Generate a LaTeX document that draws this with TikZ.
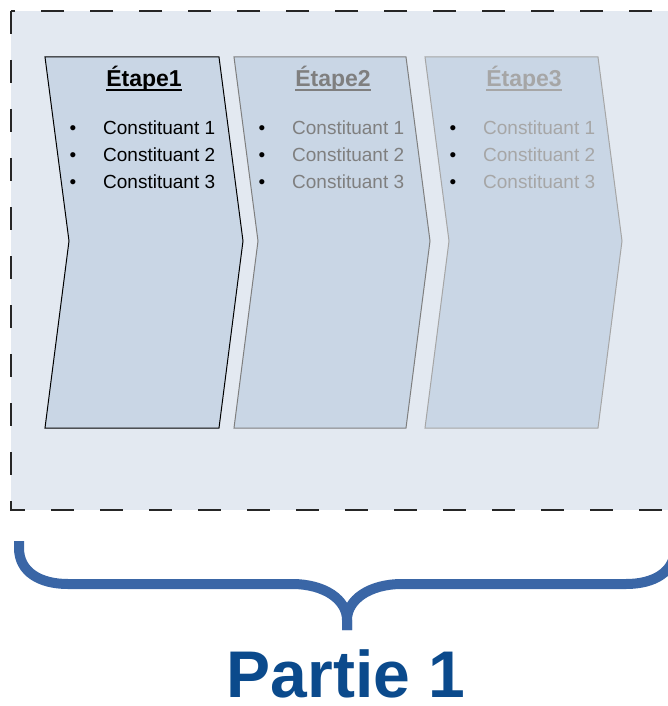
\documentclass[tikz,border=0pt]{standalone}
\usepackage{fontspec}
\setmainfont{Liberation Sans}
\definecolor{bgfill}{HTML}{E3E9F1}
\definecolor{chevfill}{HTML}{C9D6E5}
\definecolor{grayA}{HTML}{7F7F7F}
\definecolor{grayB}{HTML}{A6A6A6}
\definecolor{bracecol}{HTML}{3A66A6}
\definecolor{partcol}{HTML}{0B4A8C}
\begin{document}
\begin{tikzpicture}[x=1pt,y=-1pt,
  chev/.style={fill=chevfill, line width=1pt, line join=miter},
  titletext/.style={inner sep=0pt, anchor=base, font=\fontsize{23}{27}\selectfont\bfseries},
  itemtext/.style={inner sep=0pt, anchor=base west, font=\fontsize{19}{23}\selectfont},
  bullettext/.style={inner sep=0pt, anchor=base, font=\fontsize{19}{23}\selectfont},
  framebox/.style={fill=bgfill, draw=black!85, line width=1.4pt, dash pattern=on 23pt off 26pt},
  bracestyle/.style={draw=bracecol, line width=10pt, line cap=butt, line join=round}]
\useasboundingbox (0,0) rectangle (668,706);
\begin{scope}
\clip (0,0) rectangle (668,706);
\draw[framebox] (11,11) rectangle (690,510);
\foreach \i/\xo/\w/\bc/\tc in {1/45/174/black/black, 2/234/172/grayA/grayA, 3/425/173/grayB/grayB} {
  \draw[chev, draw=\bc] (\xo,57) -- ++(\w,0) -- ++(24,184) -- ++(-24,187) -- ++(-\w,0) -- ++(24,-187) -- cycle;
  \node[titletext, text=\tc] (t\i) at (\xo+99,87) {Étape\i};
  \draw[\tc, line width=1.7pt] ([yshift=-2.8pt]t\i.base west) -- ([yshift=-2.8pt]t\i.base east);
  \foreach \k/\yy in {1/135, 2/161.5, 3/188} {
    \node[bullettext] (b\i\k) at (\xo+28,\yy) {•};
    \node[itemtext, text=\tc] (c\i\k) at (\xo+58,\yy) {Constituant \k};
  }
}
\coordinate (bl) at (19,541);
\coordinate (bm) at (347,630);
\coordinate (br) at (675,541);
\draw[bracestyle] (bl) -- (19,548) .. controls (19,572) and (40,584) .. (68,584) -- (292,584)
   .. controls (325,584) and (347,600) .. (347,620) -- (bm);
\draw[bracestyle] (br) -- (675,548) .. controls (675,572) and (654,584) .. (626,584) -- (402,584)
   .. controls (369,584) and (347,600) .. (347,620) -- (bm);
\end{scope}
\node[inner sep=0pt, anchor=base, text=partcol, font=\fontsize{66}{70}\selectfont\bfseries] (part) at (346,697) {Partie 1};
\end{tikzpicture}
\end{document}
